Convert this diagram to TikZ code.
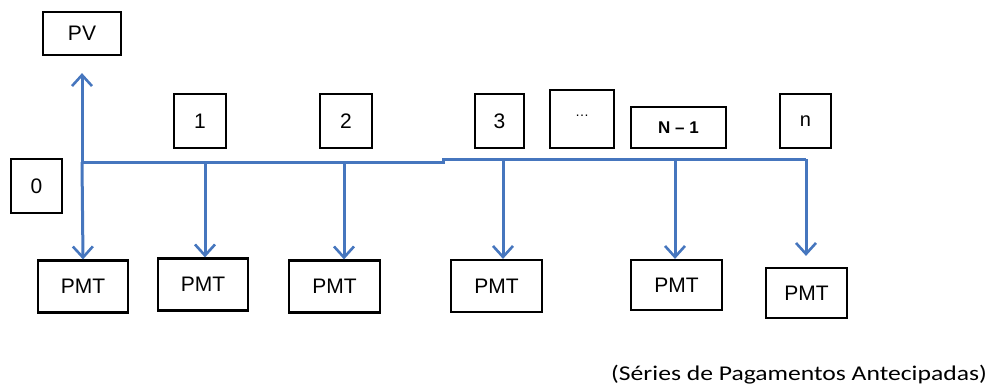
\documentclass[tikz,border=0pt]{standalone}
\usepackage{fontspec}
\setmainfont{Liberation Sans}
\newfontfamily\captionfont{Carlito}
\usetikzlibrary{arrows.meta}
\definecolor{flowblue}{RGB}{70,118,190}
\begin{document}
\begin{tikzpicture}[x=1pt,y=-1pt,
  box/.style={draw=black,line width=2.2pt,inner sep=0pt,fill=white,
    font=\fontsize{21}{21}\selectfont},
  pmtbox/.style={box,minimum width=90pt,minimum height=52pt,
    font=\fontsize{21}{21}\selectfont},
  flow/.style={draw=flowblue,line width=3pt},
  cash/.style={flow,-{Straight Barb[length=11pt,width=20pt,line width=2.6pt]}},
]
\useasboundingbox (0,0) rectangle (994,389);

% period labels
\node[box,minimum width=78pt,minimum height=43pt] (pv) at (82,33.5) {PV};
\node[box,minimum width=51pt,minimum height=54pt] (p0) at (36.5,186) {0};
\node[box,minimum width=52pt,minimum height=54pt] (p1) at (200,121) {1};
\node[box,minimum width=52pt,minimum height=54pt] (p2) at (346,121) {2};
\node[box,minimum width=49pt,minimum height=54pt] (p3) at (499.5,121) {3};
\node[box,minimum width=64pt,minimum height=58pt] (pd) at (582,119) {\raisebox{6pt}{\fontsize{14}{14}\selectfont\ldots}};
\node[box,minimum width=95pt,minimum height=41pt,font=\fontsize{17}{17}\selectfont\bfseries] (pn1) at (678.5,127.5) {N -- 1};
\node[box,minimum width=51pt,minimum height=54pt,font=\fontsize{20}{20}\selectfont] (pn) at (805.5,121) {n};

% payments
\node[pmtbox] (m0) at (83,286.5) {PMT};
\node[pmtbox] (m1) at (203,284.5) {PMT};
\node[pmtbox,minimum width=91pt] (m2) at (334.5,286.5) {PMT};
\node[pmtbox,minimum width=91pt] (m3) at (496.5,286) {PMT};
\node[pmtbox,minimum width=91pt,minimum height=50pt] (m4) at (676.5,285) {PMT};
\node[pmtbox,minimum width=81pt,minimum height=50pt] (m5) at (806.5,293) {PMT};

% time line
\coordinate (t0) at (82,162);
\coordinate (t1) at (205,162);
\coordinate (t2) at (344,162);
\coordinate (tk) at (443,162);
\coordinate (tk2) at (443,159);
\coordinate (t3) at (503,159);
\coordinate (t4) at (675,159);
\coordinate (t5) at (806,159);
\draw[flow] (t0) -- (tk) -- (tk2) -- (t5);

% present value and payments at each period start
\draw[cash] (t0) -- ([yshift=-17pt]pv.south);
\draw[cash] (t0) -- (m0.north);
\draw[cash] (t1) -- (t1 |- m1.north);
\draw[cash] (t2) -- (t2 |- m2.north);
\draw[cash] (t3) -- (t3 |- m3.north);
\draw[cash] (t4) -- (t4 |- m4.north);
\draw[cash] (t5) -- ([yshift=11pt]t5 |- m5.north);

\node[anchor=base east,inner sep=0pt,font=\captionfont\fontsize{21}{21}\selectfont] (cap) at (987,380)
  {\scalebox{1.22}[1]{(Séries de Pagamentos Antecipadas)}};
\end{tikzpicture}
\end{document}
